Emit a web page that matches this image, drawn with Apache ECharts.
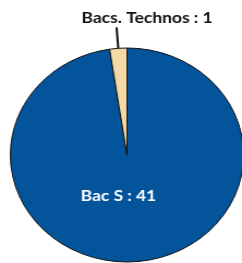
<!DOCTYPE html>
<html><head><meta charset="utf-8">
<script src="https://cdn.jsdelivr.net/npm/echarts@6/dist/echarts.min.js"></script>
<style>
html,body{margin:0;padding:0;background:#fff;overflow:hidden;}
#c{width:222px;height:263px;transform:scaleX(1.09);transform-origin:0 0;}
</style></head>
<body><div id="c"></div>
<script>
const categories = ["Bac S", "Bacs. Technos"];
const values = [41, 1];
const colors = ["#03549A", "#F2D9A6"];

const chart = echarts.init(document.getElementById('c'), null, {renderer:'canvas'});
const data = categories.map((n, i) => ({
  name: n, value: values[i],
  itemStyle: {color: colors[i]},
  label: i === 0 ? {
    position: 'inside', color: '#fff', offset: [-12, -15]
  } : {
    position: 'outside', color: '#111'
  },
  labelLine: i === 0 ? {show:false} : {show:true, length: 21, length2: 0, lineStyle:{color:'#111', width:2}}
}));
chart.setOption({
  animation: false,
  series: [{
    type: 'pie',
    center: [116.5, 155],
    radius: 107,
    startAngle: 90,
    clockwise: true,
    avoidLabelOverlap: false,
    itemStyle: {borderColor: '#111', borderWidth: 1},
    label: {
      show: true,
      formatter: p => p.name + ' : ' + p.value,
      fontFamily: 'Lato', fontWeight: 'bold', fontSize: 16
    },
    labelLayout: function (params) {
      if (params.dataIndex !== 1) return {};
      const pts = params.labelLinePoints;
      const end = pts[pts.length - 1];
      return {
        x: end[0] + 28, y: end[1] - 10,
        align: 'center', verticalAlign: 'middle',
        labelLinePoints: pts
      };
    },
    data: data
  }]
});
</script></body></html>
